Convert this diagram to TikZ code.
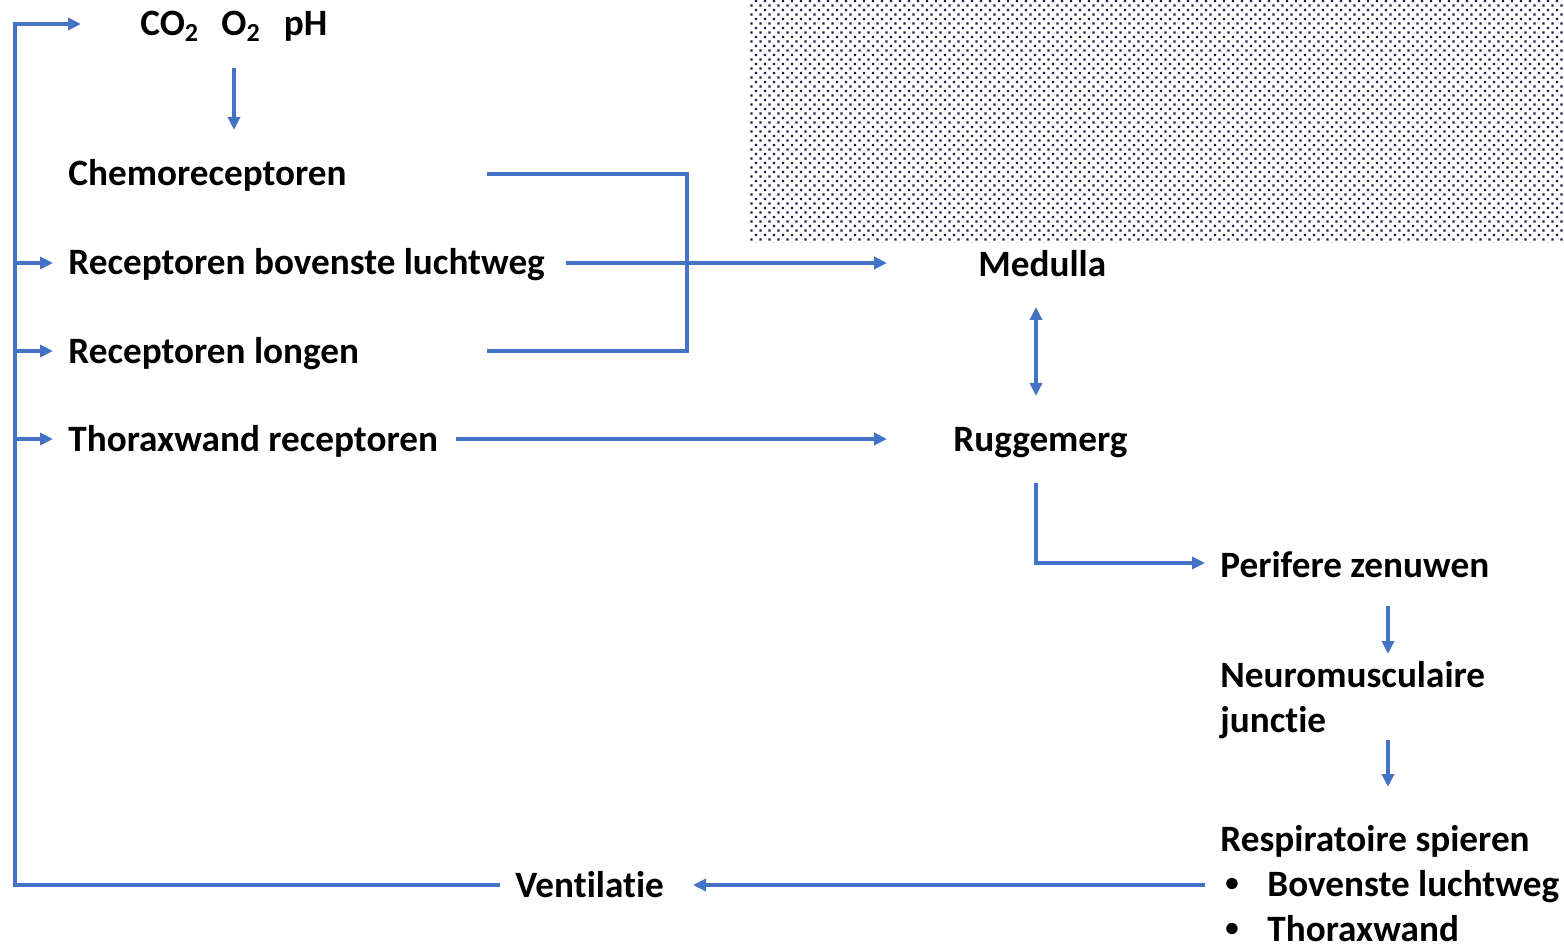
\documentclass[tikz,border=0pt]{standalone}
\usepackage{fontspec}
\setmainfont{Carlito}[Ligatures=NoCommon]
\usetikzlibrary{arrows.meta,patterns}
\definecolor{flow}{HTML}{4472C4}
\definecolor{dotink}{HTML}{1C1C48}
% staggered square halftone dots
\pgfdeclarepatternformonly{halftone}{\pgfqpoint{-0.6pt}{-0.6pt}}{\pgfqpoint{3.9pt}{3.9pt}}{\pgfqpoint{4.5pt}{4.5pt}}{%
  \pgfpathrectangle{\pgfqpoint{-0.6pt}{-0.6pt}}{\pgfqpoint{1.2pt}{1.2pt}}%
  \pgfpathrectangle{\pgfqpoint{1.65pt}{1.65pt}}{\pgfqpoint{1.2pt}{1.2pt}}%
  \pgfusepath{fill}}
\newcommand{\smallbullet}{\makebox[23.5pt][l]{\hspace{2.5pt}\raisebox{0.12em}{\scalebox{0.72}{•}}}}
\tikzset{
  lbl/.style={font=\fontsize{18.6}{22.4}\selectfont\bfseries, inner sep=0pt, anchor=base west, align=left},
  flowline/.style={draw=flow, line width=1.7pt, line join=miter},
  arr/.style={flowline, -{Triangle[length=6.5pt,width=6pt]}},
  darr/.style={flowline, {Triangle[length=6.5pt,width=6pt]}-{Triangle[length=6.5pt,width=6pt]}},
}
\begin{document}
\begin{tikzpicture}[x=0.5pt,y=-0.5pt]
\useasboundingbox (0,0) rectangle (1564,946);
\fill[white] (0,0) rectangle (1564,946);
\fill[pattern=halftone, pattern color=dotink] (750,0) rectangle (1564,243);

% labels (multi-line labels are placed by their last baseline)
\node[lbl] (gas) at (140,36) {CO\textsubscript{2}\hspace{0.6em}O\textsubscript{2}\hspace{0.62em}pH};
\node[lbl] (chemo) at (68,186) {Chemoreceptoren};
\node[lbl] (lucht) at (68,275) {Receptoren bovenste luchtweg};
\node[lbl] (longen) at (68,364) {Receptoren longen};
\node[lbl] (thorax) at (68,452) {Thoraxwand receptoren};
\node[lbl] (medulla) at (978,277) {Medulla};
\node[lbl] (rug) at (953,452) {Ruggemerg};
\node[lbl] (perifeer) at (1220,577) {Perifere zenuwen};
\node[lbl] (neuro) at (1220,732) {Neuromusculaire\\junctie};
\node[lbl] (resp) at (1220,941) {Respiratoire spieren\\\smallbullet Bovenste luchtweg\\\smallbullet Thoraxwand};
\node[lbl] (vent) at (515,897) {Ventilatie};

% connector end points
\coordinate (loopTop) at (15,24);
\coordinate (gasIn) at (81,24);
\coordinate (loopBot) at (15,885);
\coordinate (ventOut) at (500,885);
\coordinate (tapA) at (15,263);
\coordinate (tapAend) at (53,263);
\coordinate (tapB) at (15,351);
\coordinate (tapBend) at (53,351);
\coordinate (tapC) at (15,439);
\coordinate (tapCend) at (53,439);
\coordinate (gasDown) at (234,68);
\coordinate (chemoUp) at (234,130);
\coordinate (chemoOut) at (487,174);
\coordinate (brTop) at (687,174);
\coordinate (brBot) at (687,351);
\coordinate (longenOut) at (487,351);
\coordinate (luchtOut) at (566,263);
\coordinate (medIn) at (887,263);
\coordinate (medDown) at (1036,307);
\coordinate (rugUp) at (1036,396);
\coordinate (thoraxOut) at (456,439);
\coordinate (rugIn) at (887,439);
\coordinate (rugDown) at (1036,483);
\coordinate (perIn) at (1205,563);
\coordinate (perDown) at (1388,606);
\coordinate (neuroUp) at (1388,654);
\coordinate (neuroDown) at (1388,740);
\coordinate (respUp) at (1388,787);
\coordinate (respOut) at (1205,885);
\coordinate (ventIn) at (693,885);

% feedback loop on the left
\draw[arr] (ventOut) -- (loopBot) -- (loopTop) -- (gasIn);
\draw[arr] (tapA) -- (tapAend);
\draw[arr] (tapB) -- (tapBend);
\draw[arr] (tapC) -- (tapCend);

% afferent paths
\draw[arr] (gasDown) -- (chemoUp);
\draw[flowline] (chemoOut) -- (brTop) -- (brBot) -- (longenOut);
\draw[arr] (luchtOut) -- (medIn);
\draw[darr] (medDown) -- (rugUp);
\draw[arr] (thoraxOut) -- (rugIn);

% efferent paths
\draw[arr] (rugDown) |- (perIn);
\draw[arr] (perDown) -- (neuroUp);
\draw[arr] (neuroDown) -- (respUp);
\draw[arr] (respOut) -- (ventIn);
\end{tikzpicture}
\end{document}
